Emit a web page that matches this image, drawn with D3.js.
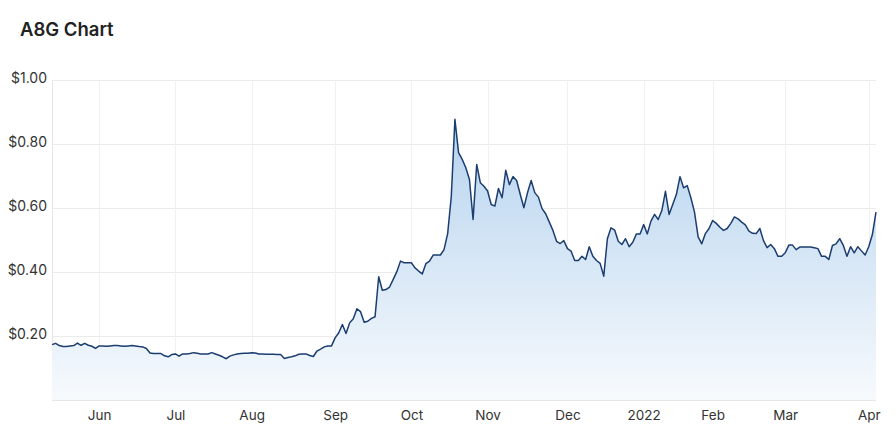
<!DOCTYPE html>
<html>
<head>
<meta charset="utf-8">
<script src="https://cdn.jsdelivr.net/npm/d3@7"></script>
<style>
  html, body { margin: 0; padding: 0; background: #ffffff; }
  svg { display: block; font-family: Inter, "Noto Sans", sans-serif; }
</style>
</head>
<body>
<svg id="chart" width="896" height="432"></svg>
<script>
// ---- data (A8G daily close, trading days May 2021 – Apr 2022) ----
const prices = [
  0.173,0.177,0.170,0.167,0.167,0.169,0.170,0.178,0.171,0.177,
  0.171,0.168,0.161,0.169,0.169,0.168,0.169,0.170,0.170,0.169,
  0.168,0.169,0.170,0.169,0.167,0.166,0.161,0.147,0.145,0.145,
  0.145,0.138,0.135,0.142,0.144,0.137,0.144,0.144,0.145,0.148,
  0.146,0.144,0.144,0.144,0.148,0.144,0.140,0.135,0.129,0.137,
  0.141,0.144,0.145,0.146,0.146,0.148,0.147,0.144,0.144,0.143,
  0.143,0.143,0.142,0.142,0.130,0.133,0.135,0.138,0.143,0.144,
  0.144,0.139,0.136,0.153,0.159,0.166,0.169,0.169,
  0.194,0.210,0.236,0.208,0.241,0.254,0.285,0.276,0.243,0.246,0.255,0.260,
  0.385,0.343,0.345,0.353,0.377,0.401,0.434,0.429,0.429,0.429,
  0.413,0.403,0.394,0.426,0.434,0.453,0.453,0.453,0.470,0.520,
  0.636,0.877,0.773,0.752,0.726,0.689,0.564,0.736,0.679,0.668,
  0.653,0.611,0.606,0.661,0.632,0.718,0.673,0.698,0.686,0.642,
  0.601,0.648,0.686,0.648,0.634,0.598,0.582,0.556,0.530,0.496,
  0.489,0.498,0.473,0.465,0.436,0.436,0.449,0.439,0.479,0.449,
  0.436,0.427,0.387,0.504,0.538,0.531,0.496,0.486,0.504,0.479,
  0.493,0.519,0.519,0.548,0.519,0.559,0.580,0.564,0.592,0.652,
  0.580,0.611,0.642,0.698,0.663,0.670,0.632,0.587,0.510,0.488,
  0.520,0.536,0.561,0.552,0.540,0.530,0.536,0.552,0.572,0.566,
  0.556,0.547,0.528,0.521,0.520,0.536,0.498,0.476,0.486,0.473,
  0.449,0.449,0.460,0.484,0.484,0.470,0.478,0.478,0.478,0.478,
  0.476,0.473,0.449,0.449,0.439,0.483,0.488,0.504,0.483,0.449,
  0.479,0.460,0.479,0.466,0.453,0.479,0.517,0.587
];
const monthTickIndex = [13, 34, 55, 78, 99, 120, 142, 163, 182, 202, 225];
const monthTickLabel = ["Jun", "Jul", "Aug", "Sep", "Oct", "Nov", "Dec", "2022", "Feb", "Mar", "Apr"];
const priceTicks = [0.2, 0.4, 0.6, 0.8, 1.0];
const chartTitle = "A8G Chart";

// ---- layout ----
const svg = d3.select("#chart");
const plotL = 52, plotR = 876, plotT = 80, plotB = 400;

const x = d3.scaleLinear().domain([0, prices.length - 1]).range([plotL, plotR]);
const y = d3.scaleLinear().domain([0, 1]).range([plotB, plotT]);

// gradient
const defs = svg.append("defs");
const grad = defs.append("linearGradient")
  .attr("id", "areaGrad").attr("gradientUnits", "userSpaceOnUse")
  .attr("x1", 0).attr("x2", 0).attr("y1", y(0.9)).attr("y2", plotB);
grad.append("stop").attr("offset", 0).attr("stop-color", "#b4d2ee");
grad.append("stop").attr("offset", 1).attr("stop-color", "#f7fafd");

// title
svg.append("text")
  .attr("x", 20).attr("y", 36)
  .attr("font-size", 18.5).attr("font-weight", 600)
  .attr("fill", "#222")
  .text(chartTitle);

// horizontal grid
const yAxis = d3.axisLeft(y).tickValues(priceTicks)
  .tickSize(-(plotR - plotL)).tickPadding(5)
  .tickFormat(d => "$" + d3.format(".2f")(d));
const gy = svg.append("g").attr("transform", `translate(${plotL},0)`).call(yAxis);
gy.select(".domain").remove();
gy.selectAll(".tick line").attr("stroke", "#ebebeb").attr("shape-rendering", "crispEdges");
gy.selectAll(".tick text").attr("fill", "#333").attr("font-size", 14)
  .attr("font-family", "Inter, sans-serif").attr("dy", "0.2em");

// vertical grid + x labels
const xAxis = d3.axisBottom(x).tickValues(monthTickIndex)
  .tickSize(-(plotB - plotT)).tickPadding(8)
  .tickFormat((d, i) => monthTickLabel[i]);
const gx = svg.append("g").attr("transform", `translate(0,${plotB})`).call(xAxis);
gx.select(".domain").remove();
gx.selectAll(".tick line").attr("stroke", "#f0f0f0").attr("shape-rendering", "crispEdges");
gx.selectAll(".tick text").attr("fill", "#333").attr("font-size", 13.5)
  .attr("font-family", "Inter, sans-serif").attr("dy", "0.9em");

// plot borders (left + bottom)
svg.append("line").attr("x1", plotL).attr("x2", plotL).attr("y1", plotT).attr("y2", plotB)
  .attr("stroke", "#e6e6e6").attr("shape-rendering", "crispEdges");
svg.append("line").attr("x1", plotL).attr("x2", plotR).attr("y1", plotB).attr("y2", plotB)
  .attr("stroke", "#e6e6e6").attr("shape-rendering", "crispEdges");

// area + line
const area = d3.area().x((d, i) => x(i)).y0(y(0)).y1(d => y(d));
const line = d3.line().x((d, i) => x(i)).y(d => y(d));

svg.append("path").datum(prices).attr("d", area).attr("fill", "url(#areaGrad)");
svg.append("path").datum(prices).attr("d", line)
  .attr("fill", "none").attr("stroke", "#1b3d6f").attr("stroke-width", 1.5)
  .attr("stroke-linejoin", "round");
</script>
</body>
</html>
